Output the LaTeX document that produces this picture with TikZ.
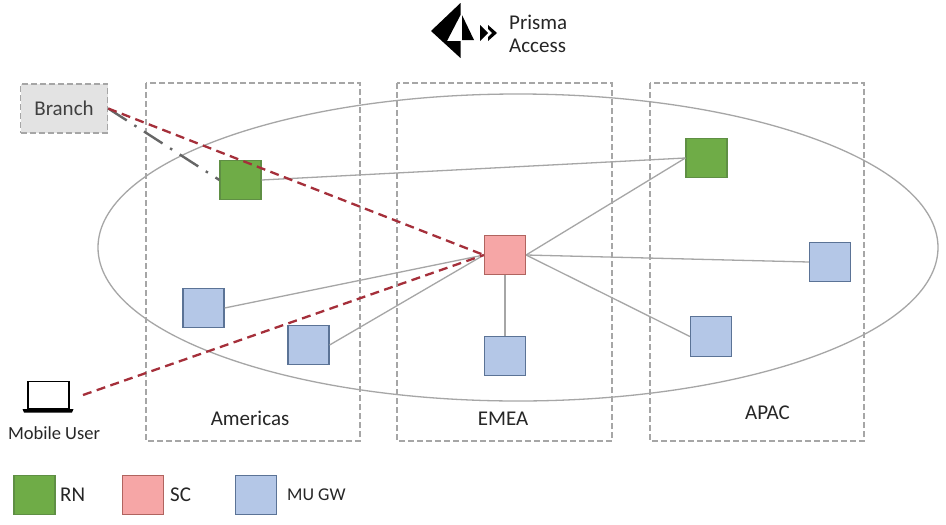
\documentclass[tikz,border=0pt]{standalone}
\usepackage{fontspec}
\setmainfont{Carlito}
\definecolor{rnfill}{HTML}{6FAC47}
\definecolor{rnline}{HTML}{5F8F44}
\definecolor{scfill}{HTML}{F6A6A6}
\definecolor{scline}{HTML}{B0645F}
\definecolor{mufill}{HTML}{B4C7E7}
\definecolor{muline}{HTML}{5B7396}
\definecolor{dashred}{HTML}{A52F3A}
\definecolor{softgrey}{HTML}{A6A6A6}
\tikzset{
  rnbox/.style={draw=rnline,fill=rnfill,line width=1.2pt,minimum width=41pt,minimum height=39.5pt,inner sep=0pt},
  scbox/.style={draw=scline,fill=scfill,line width=1.2pt,minimum width=41pt,minimum height=39.5pt,inner sep=0pt},
  mubox/.style={draw=muline,fill=mufill,line width=1.2pt,minimum width=41pt,minimum height=39.5pt,inner sep=0pt},
  region/.style={draw=softgrey,dash pattern=on 6pt off 3pt,line width=1.5pt},
  link/.style={draw=softgrey,line width=1.3pt},
  tunnel/.style={draw=dashred,dash pattern=on 9pt off 5.5pt,line width=2.3pt},
  txt/.style={inner sep=0pt,font=\fontsize{21}{23}\selectfont,text=black!85}
}
\begin{document}
\begin{tikzpicture}[x=1pt,y=-1pt]
\useasboundingbox (0,0) rectangle (946,525);
\fill[white] (0,0) rectangle (946,525);
% ellipse
\draw[link] (518,247.5) ellipse [x radius=420,y radius=153.5];
% regions
\draw[region] (146,83) rectangle (360,441);
\draw[region] (397,83) rectangle (612,441);
\draw[region] (650,83) rectangle (864,441);
% nodes
\node[draw=softgrey,dash pattern=on 6pt off 3pt,fill=black!11,line width=1.5pt,minimum width=87pt,minimum height=49pt,inner sep=0pt,font=\fontsize{21}{23}\selectfont,text=black!75] (branch) at (64,108.5) {Branch};
\node[rnbox] (rn1) at (240.5,180) {};
\node[rnbox] (rn2) at (706.5,158) {};
\node[scbox] (sc) at (505,255) {};
\node[mubox] (mu1) at (203.5,308) {};
\node[mubox] (mu2) at (308.5,345) {};
\node[mubox] (mu3) at (505,356) {};
\node[mubox] (mu4) at (711,336.5) {};
\node[mubox] (mu5) at (830,262) {};
% links
\draw[link] (rn1.east) -- (rn2.west);
\draw[link] (mu1.east) -- (sc.west);
\draw[link] (mu2.east) -- (sc.west);
\draw[link] (sc.south) -- (mu3.north);
\draw[link] (sc.east) -- (rn2.west);
\draw[link] (sc.east) -- (mu5.west);
\draw[link] (sc.east) -- (mu4.west);
% laptop
\draw[black,line width=1.6pt,fill=white] (28,381.5) rectangle (69,409);
\fill[black] (22.5,409) -- (73.5,409) -- (72,412.5) -- (24,412.5) -- cycle;
\coordinate (mobile) at (83,395);
\node[inner sep=0pt,font=\fontsize{18.5}{20}\selectfont,text=black!85] (muser) at (54,433.5) {Mobile User};
% tunnels
\draw[draw=black!60,line width=2.4pt,dash pattern=on 22pt off 9pt on 2.5pt off 9pt] (branch.east) -- (rn1.west);
\draw[tunnel] (branch.east) -- (sc.west);
\draw[tunnel] (mobile) -- (sc.west);
% labels
\node[txt] (am) at (250,418.5) {Americas};
\node[txt] (em) at (503,418.5) {EMEA};
\node[txt] (ap) at (767.5,412.5) {APAC};
% logo
\fill[black] (460.5,3) -- (431,31) -- (460.5,58) -- (460.5,41) -- (447,41) -- (460.5,15) -- cycle;
\fill[black] (462,15) -- (474,40) -- (462,40) -- cycle;
\fill[black] (480,25) -- (488,33) -- (480,41) -- cycle;
\fill[black] (488,25) -- (497,33) -- (488,41) -- (488,37) -- (492,33) -- (488,29) -- cycle;
\node[txt,anchor=west] (pa1) at (509,22) {Prisma};
\node[txt,anchor=west] (pa2) at (509,46) {Access};
% legend
\node[rnbox] (lrn) at (34.5,495) {};
\node[scbox] (lsc) at (143,495) {};
\node[mubox] (lmu) at (256,495) {};
\node[txt,anchor=west] (trn) at (60,495) {RN};
\node[txt,anchor=west] (tsc) at (170,495) {SC};
\node[txt,anchor=west,font=\fontsize{18}{20}\selectfont] (tmu) at (287,495) {MU GW};
\end{tikzpicture}
\end{document}
